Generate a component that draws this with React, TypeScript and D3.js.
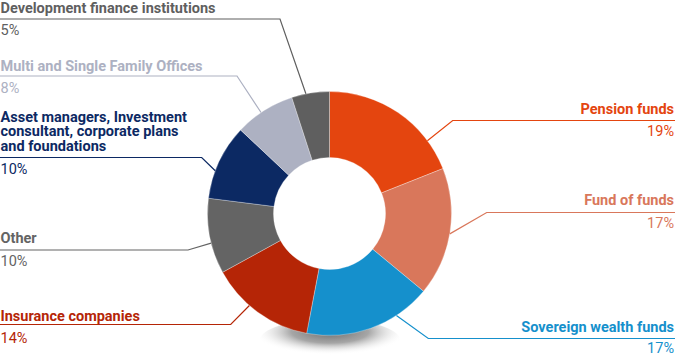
import React from "react";
import * as d3 from "d3";

const categories = [
  "Pension funds",
  "Fund of funds",
  "Sovereign wealth funds",
  "Insurance companies",
  "Other",
  "Asset managers, Investment\nconsultant, corporate plans\nand foundations",
  "Multi and Single Family Offices",
  "Development finance institutions",
];
const values = [19, 17, 17, 14, 10, 10, 8, 5];
const colors = ["#E4450F", "#D9775B", "#1590CC", "#B52506", "#646464", "#0C2963", "#ADB1C2", "#5F5F5F"];

// label layout (not data)
const labelSide = ["right", "right", "right", "left", "left", "left", "left", "left"];
const labelLineY = [120.5, 212.5, 338.5, 324.5, 250, 157.5, 76, 19];
const titleY = [114, 205, 331.7, 320.5, 243.3, 150.8, 71, 12.8];
const pctY = [136.3, 227.5, 353.3, 342.7, 266, 173.5, 92.7, 35];
const elbowX = [452.7, 486.7, 428.3, 230.7, 188, 201.7, 237, 280];
const leaderFrac = [0.78, 0.51, 0.28, 0.6, 0.41, 0.37, 0.44, 0.38];

const W = 675;
const H = 362;
const cx = 329.5;
const cy = 213.5;
const rOuter = 122;
const rInner = 56;
const FS = 14.5;
const LH = 14.5;

export default function App() {
  const pie = d3.pie<number>().sort(null).value((d) => d)(values);
  const arc = d3.arc<d3.PieArcDatum<number>>().innerRadius(rInner).outerRadius(rOuter);

  return (
    <svg
      width={W}
      height={H}
      style={{ position: "absolute", left: 0, top: 0, fontFamily: "Roboto, sans-serif" }}
    >
      <defs>
        <radialGradient id="shadow" cx="0.5" cy="0.3" r="0.55">
          <stop offset="0" stopColor="#6a6a6a" stopOpacity="1" />
          <stop offset="0.5" stopColor="#969696" stopOpacity="0.85" />
          <stop offset="1" stopColor="#ffffff" stopOpacity="0" />
        </radialGradient>
      </defs>
      <ellipse cx={330} cy={340} rx={70} ry={21} fill="url(#shadow)" />
      <g transform={`translate(${cx},${cy})`}>
        {pie.map((p, i) => (
          <path key={i} d={arc(p) || ""} fill={colors[i]} stroke="#fff" strokeWidth={0.5} strokeOpacity={0.6} />
        ))}
      </g>
      {pie.map((p, i) => {
        const a = p.startAngle + leaderFrac[i] * (p.endAngle - p.startAngle);
        const ex = cx + rOuter * Math.sin(a);
        const ey = cy - rOuter * Math.cos(a);
        const ly = labelLineY[i];
        const right = labelSide[i] === "right";
        const endX = right ? W : 0;
        const lines = categories[i].split("\n");
        const tx = right ? W - 1 : 0.5;
        const anchor = right ? "end" : "start";
        const lastBase = titleY[i];
        return (
          <g key={i}>
            <polyline
              points={`${ex},${ey} ${elbowX[i]},${ly} ${endX},${ly}`}
              fill="none"
              stroke={colors[i]}
              strokeWidth={1.2}
            />
            <text x={tx} fontSize={FS} fontWeight={700} fill={colors[i]} textAnchor={anchor}>
              {lines.map((l, j) => (
                <tspan key={j} x={tx} y={lastBase - (lines.length - 1 - j) * LH}>
                  {l}
                </tspan>
              ))}
            </text>
            <text x={tx} y={pctY[i]} fontSize={FS} fill={colors[i]} textAnchor={anchor}>
              {`${values[i]}%`}
            </text>
          </g>
        );
      })}
    </svg>
  );
}
